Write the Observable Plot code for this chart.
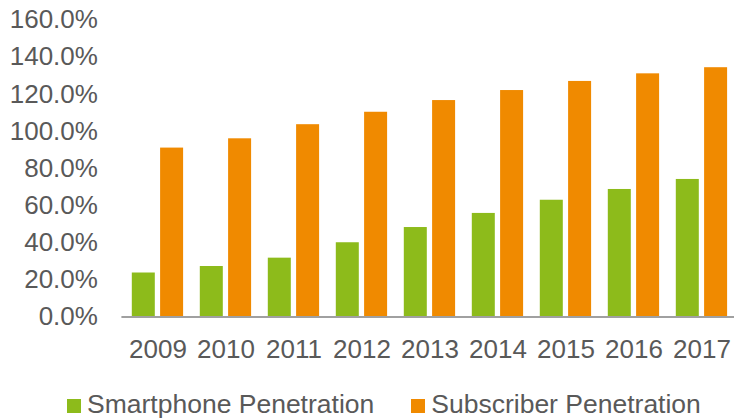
<!DOCTYPE html>
<html>
<head>
<meta charset="utf-8">
<script src="https://cdn.jsdelivr.net/npm/d3@7"></script>
<script src="https://cdn.jsdelivr.net/npm/@observablehq/plot@0.6"></script>
<style>
  html, body { margin: 0; padding: 0; background: #fff; }
  body { width: 734px; height: 418px; overflow: hidden; position: relative; font-family: "Liberation Sans", Arial, sans-serif; }
  #legend { position: absolute; left: 67px; top: 390px; display: flex; gap: 37px; font-size: 26.5px; color: #595959; line-height: 28px; }
  .item { display: flex; align-items: center; }
  .sw { width: 14px; height: 14px; margin-right: 6px; margin-top: 3px; }
</style>
</head>
<body>
<div id="chart"></div>
<div id="legend"></div>
<script>
const years = ["2009","2010","2011","2012","2013","2014","2015","2016","2017"];
const seriesNames = ["Smartphone Penetration", "Subscriber Penetration"];
const smartphone = [23.7, 27.2, 31.7, 40.0, 48.2, 55.8, 62.9, 68.7, 74.1];
const subscriber = [91.0, 96.0, 103.6, 110.3, 116.6, 122.0, 126.9, 131.0, 134.3];
const yTicks = [0, 20, 40, 60, 80, 100, 120, 140, 160];
const colors = ["#8DBB1B", "#F08A00"];

const textColor = "#595959";
const data = years.flatMap((y, i) => [
  {year: y, series: seriesNames[0], value: smartphone[i]},
  {year: y, series: seriesNames[1], value: subscriber[i]}
]);

const chart = Plot.plot({
  width: 734,
  height: 418,
  marginLeft: 121.4,
  marginRight: -4,
  marginTop: 19.5,
  marginBottom: 101.5,
  style: {fontFamily: '"Liberation Sans", Arial, sans-serif', fontSize: "26px", color: textColor, background: "#fff", overflow: "visible"},
  x: {domain: years, paddingInner: 0.664, paddingOuter: 0.333, label: null},
  y: {domain: [0, 160], label: null},
  color: {domain: seriesNames, range: colors},
  marks: [
    Plot.axisY({ticks: yTicks, tickSize: 0, tickPadding: 24, tickFormat: d => d.toFixed(1) + "%", fontSize: 26, fill: textColor, label: null}),
    Plot.axisX({tickSize: 0, tickPadding: 23, fontSize: 26, fill: textColor, label: null}),
    Plot.barY(data.filter(d => d.series === seriesNames[0]), {x: "year", y: "value", fill: colors[0], dx: -14.2}),
    Plot.barY(data.filter(d => d.series === seriesNames[1]), {x: "year", y: "value", fill: colors[1], dx: 14.1}),
    Plot.ruleY([0], {stroke: "#A0A0A0", strokeWidth: 2})
  ]
});
document.getElementById("chart").appendChild(chart);

const legend = document.getElementById("legend");
seriesNames.forEach((name, i) => {
  const item = document.createElement("div");
  item.className = "item";
  const sw = document.createElement("span");
  sw.className = "sw";
  sw.style.background = colors[i];
  const label = document.createElement("span");
  label.textContent = name;
  item.appendChild(sw);
  item.appendChild(label);
  legend.appendChild(item);
});
</script>
</body>
</html>
